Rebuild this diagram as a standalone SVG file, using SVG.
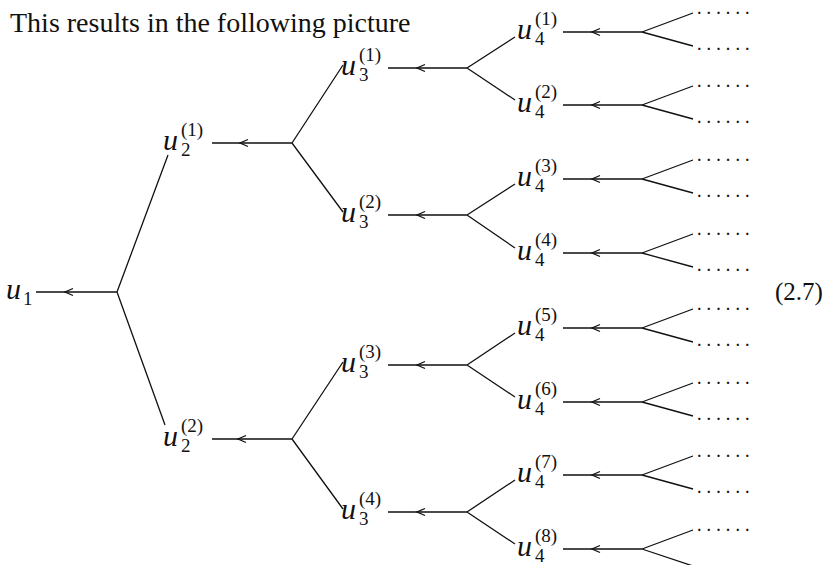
<svg xmlns="http://www.w3.org/2000/svg" width="825" height="565" viewBox="0 0 825 565">
<style>
.bg{fill:#fff}
.ln{stroke:#111;stroke-width:1.3;fill:none}
.ar{stroke:#111;stroke-width:1.3;fill:none;stroke-linejoin:miter}
.u{font-family:"Liberation Serif",serif;font-style:italic;font-size:30px;fill:#111}
.s{font-family:"Liberation Serif",serif;font-size:19px;fill:#111}
.t{font-family:"Liberation Serif",serif;font-size:28px;fill:#111}
.d{font-family:"Liberation Serif",serif;font-size:14px;font-weight:bold;fill:#111;letter-spacing:6.1px}
</style>
<rect class="bg" x="0" y="0" width="825" height="565"/>
<text class="t" x="10" y="32">This results in the following picture</text>
<text class="t" x="775" y="300" style="font-size:25px">(2.7)</text>

<g id="connectors">
<path class="ln" d="M36 292H117M117 292L168 155M117 292L165 425"/>
<path class="ar" d="M73 288.5L65 292L73 295.5"/>
<path class="ln" d="M212 143H292M292 143L343 65M292 143L343 212"/>
<path class="ar" d="M248 139.5L240 143L248 146.5"/>
<path class="ln" d="M212 439H292M292 439L343 362M292 439L343 509"/>
<path class="ar" d="M246 435.5L238 439L246 442.5"/>
<path class="ln" d="M388 68H467M467 68L515 37M467 68L515 100"/>
<path class="ar" d="M425 64.5L417 68L425 71.5"/>
<path class="ln" d="M388 215H467M467 215L515 184M467 215L515 248"/>
<path class="ar" d="M425 211.5L417 215L425 218.5"/>
<path class="ln" d="M388 365H467M467 365L515 333M467 365L515 397"/>
<path class="ar" d="M425 361.5L417 365L425 368.5"/>
<path class="ln" d="M388 512H467M467 512L515 480M467 512L515 544"/>
<path class="ar" d="M425 508.5L417 512L425 515.5"/>
<path class="ln" d="M563 32H642M642 32L693 13M642 32L693 46"/>
<path class="ar" d="M600 28.5L592 32L600 35.5"/>
<path class="ln" d="M563 105H642M642 105L693 86M642 105L693 119"/>
<path class="ar" d="M600 101.5L592 105L600 108.5"/>
<path class="ln" d="M563 179H642M642 179L693 160M642 179L693 193"/>
<path class="ar" d="M600 175.5L592 179L600 182.5"/>
<path class="ln" d="M563 253H642M642 253L693 234M642 253L693 267"/>
<path class="ar" d="M600 249.5L592 253L600 256.5"/>
<path class="ln" d="M563 328H642M642 328L693 309M642 328L693 342"/>
<path class="ar" d="M600 324.5L592 328L600 331.5"/>
<path class="ln" d="M563 402H642M642 402L693 383M642 402L693 416"/>
<path class="ar" d="M600 398.5L592 402L600 405.5"/>
<path class="ln" d="M563 475H642M642 475L693 456M642 475L693 489"/>
<path class="ar" d="M600 471.5L592 475L600 478.5"/>
<path class="ln" d="M563 549H642M642 549L693 530M642 549L693 566"/>
<path class="ar" d="M600 545.5L592 549L600 552.5"/>
</g>

<g id="leaves">
<text class="d" x="697.5" y="13.5">......</text>
<text class="d" x="697.5" y="49.5">......</text>
<text class="d" x="697.5" y="86.5">......</text>
<text class="d" x="697.5" y="122.5">......</text>
<text class="d" x="697.5" y="160.5">......</text>
<text class="d" x="697.5" y="196.5">......</text>
<text class="d" x="697.5" y="234.5">......</text>
<text class="d" x="697.5" y="270.5">......</text>
<text class="d" x="697.5" y="309.5">......</text>
<text class="d" x="697.5" y="345.5">......</text>
<text class="d" x="697.5" y="383.5">......</text>
<text class="d" x="697.5" y="419.5">......</text>
<text class="d" x="697.5" y="456.5">......</text>
<text class="d" x="697.5" y="492.5">......</text>
<text class="d" x="697.5" y="530.5">......</text>
</g>

<g id="u1"><text class="u" x="6" y="299">u</text><text class="s" x="23" y="305">1</text></g>
<g id="u2_1"><text class="u" x="163" y="150">u</text><text class="s" x="181" y="156">2</text><text class="s" x="181" y="136">(1)</text></g>
<g id="u2_2"><text class="u" x="163" y="446">u</text><text class="s" x="181" y="452">2</text><text class="s" x="181" y="432">(2)</text></g>
<g id="u3_1"><text class="u" x="341" y="75">u</text><text class="s" x="359" y="81">3</text><text class="s" x="359" y="61">(1)</text></g>
<g id="u3_2"><text class="u" x="341" y="222">u</text><text class="s" x="359" y="228">3</text><text class="s" x="359" y="208">(2)</text></g>
<g id="u3_3"><text class="u" x="341" y="372">u</text><text class="s" x="359" y="378">3</text><text class="s" x="359" y="358">(3)</text></g>
<g id="u3_4"><text class="u" x="341" y="519">u</text><text class="s" x="359" y="525">3</text><text class="s" x="359" y="505">(4)</text></g>
<g id="u4_1"><text class="u" x="517" y="39">u</text><text class="s" x="535" y="45">4</text><text class="s" x="535" y="25">(1)</text></g>
<g id="u4_2"><text class="u" x="517" y="112">u</text><text class="s" x="535" y="118">4</text><text class="s" x="535" y="98">(2)</text></g>
<g id="u4_3"><text class="u" x="517" y="186">u</text><text class="s" x="535" y="192">4</text><text class="s" x="535" y="172">(3)</text></g>
<g id="u4_4"><text class="u" x="517" y="260">u</text><text class="s" x="535" y="266">4</text><text class="s" x="535" y="246">(4)</text></g>
<g id="u4_5"><text class="u" x="517" y="335">u</text><text class="s" x="535" y="341">4</text><text class="s" x="535" y="321">(5)</text></g>
<g id="u4_6"><text class="u" x="517" y="409">u</text><text class="s" x="535" y="415">4</text><text class="s" x="535" y="395">(6)</text></g>
<g id="u4_7"><text class="u" x="517" y="482">u</text><text class="s" x="535" y="488">4</text><text class="s" x="535" y="468">(7)</text></g>
<g id="u4_8"><text class="u" x="517" y="556">u</text><text class="s" x="535" y="562">4</text><text class="s" x="535" y="542">(8)</text></g>
</svg>
